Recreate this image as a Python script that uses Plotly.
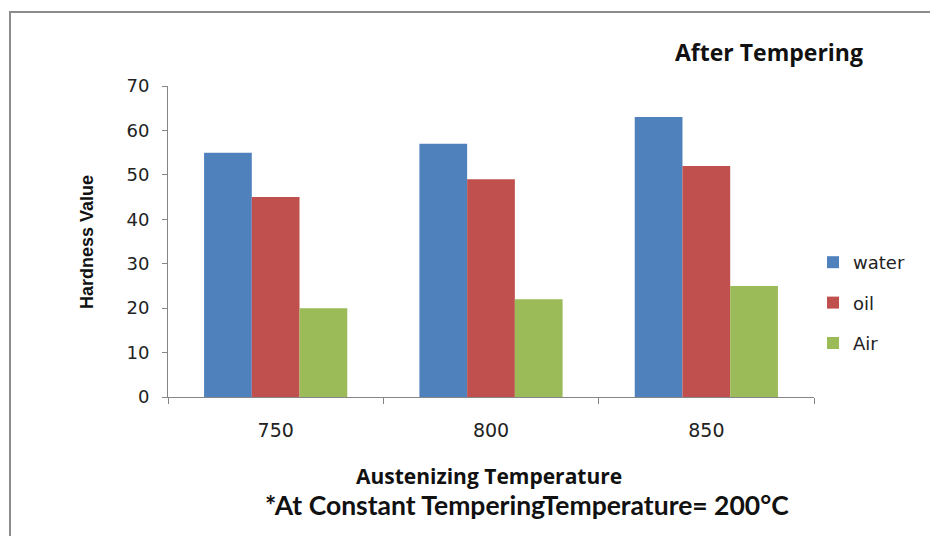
import plotly.graph_objects as go

categories = ["750", "800", "850"]
water = [55, 57, 63]
oil = [45, 49, 52]
air = [20, 22, 25]
series_names = ["water", "oil", "Air"]
colors = ["#4F81BD", "#C0504D", "#9BBB59"]

W, H = 930, 536
L, R, T, B = 168, 116, 86, 139
pw, ph = W - L - R, H - T - B

def px(x):
    return (x - L) / pw

def py(y):
    return (H - B - y) / ph

fig = go.Figure()
for name, vals, col in zip(series_names, [water, oil, air], colors):
    fig.add_trace(go.Bar(x=categories, y=vals, name=name, marker_color=col,
                         marker_line_width=0, legendgroup=name))

axis_col = "#868686"

fig.update_layout(
    width=W, height=H,
    margin=dict(l=L, r=R, t=T, b=B),
    paper_bgcolor="white", plot_bgcolor="white",
    bargap=0.335, bargroupgap=0,
    showlegend=True,
    legend=dict(x=px(813), y=py(303), xanchor="left", yanchor="middle",
                font=dict(family="DejaVu Sans", size=18, color="#222"),
                tracegroupgap=14, bgcolor="rgba(0,0,0,0)"),
    title=dict(text="<b>After Tempering</b>", xref="container", yref="container",
               x=769 / W, y=1 - 53 / H, xanchor="center", yanchor="middle",
               font=dict(family="Open Sans", size=23, color="#111")),
    xaxis=dict(type="category", showline=True, linecolor=axis_col, linewidth=1,
               ticks="outside", tickson="boundaries", ticklen=6, tickcolor=axis_col,
               tickfont=dict(family="DejaVu Sans", size=19, color="#222"),
               ticklabelstandoff=16,
               showgrid=False, zeroline=False),
    yaxis=dict(range=[0, 70], dtick=10, showline=True, linecolor=axis_col, linewidth=1,
               ticks="outside", ticklen=5, tickcolor=axis_col,
               tickfont=dict(family="DejaVu Sans", size=18, color="#222"),
               ticklabelstandoff=9,
               showgrid=False, zeroline=False),
    annotations=[
        dict(text="<b>Hardness Value</b>", textangle=-90, xref="paper", yref="paper",
             x=px(87), y=py(242), xanchor="center", yanchor="middle", showarrow=False,
             font=dict(family="Liberation Sans", size=18, color="#111")),
        dict(text="<b>Austenizing Temperature</b>", xref="paper", yref="paper",
             x=px(489), y=py(476), xanchor="center", yanchor="middle", showarrow=False,
             font=dict(family="Open Sans", size=21, color="#111")),
        dict(text="<b>*At Constant TemperingTemperature= 200°C</b>", xref="paper", yref="paper",
             x=px(527), y=py(505), xanchor="center", yanchor="middle", showarrow=False,
             font=dict(family="Lato", size=26.5, color="#111")),
    ],
    shapes=[dict(type="rect", xref="paper", yref="paper",
                 x0=px(10), x1=px(940), y0=py(545), y1=py(12),
                 line=dict(color="#8c8c8c", width=2), fillcolor="rgba(0,0,0,0)", layer="below")],
)

fig.write_html("out.html")
